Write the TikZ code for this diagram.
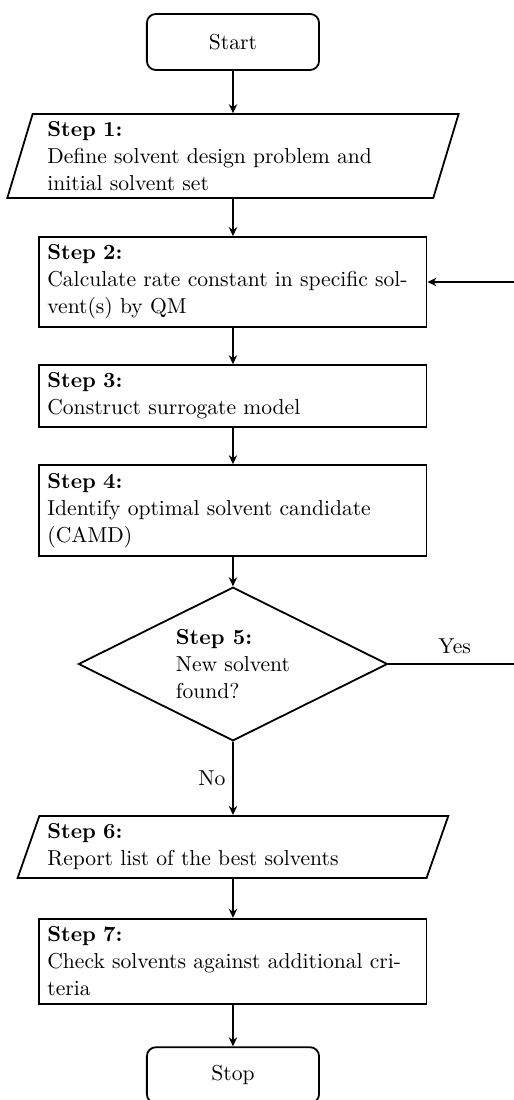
\documentclass[tikz,border=0pt]{standalone}
\usepackage{tikz}
\usetikzlibrary{positioning,arrows.meta,shapes.geometric,calc}
\tikzset{
  stepbox/.style = {draw, line width=0.8pt, align=left, text width=5.8cm,
                    inner xsep=0.125cm, inner ysep=3pt},
  io/.style      = {stepbox, trapezium, trapezium stretches=true},
  term/.style    = {draw, line width=0.8pt, rounded corners=4pt,
                    minimum width=2.69cm, minimum height=0.875cm},
  dec/.style     = {draw, line width=0.8pt, diamond, aspect=2, align=left,
                    inner sep=1pt, minimum width=4.83cm, minimum height=2.4cm},
  ar/.style      = {-{Stealth[length=1.4mm, width=1.3mm]}, line width=0.8pt},
  lbl/.style     = {inner sep=3pt},
}
\begin{document}
\begin{tikzpicture}[font=\fontsize{9.6}{12}\selectfont]
\useasboundingbox (0,0) rectangle (8.016,-17.1875);

% ===== terminals and steps =====
\node[term] (start) at (3.64,-0.656) {Start};
\node[io, trapezium left angle=73, trapezium right angle=107,
      inner xsep=0.23cm, minimum height=1.31cm] (s1) at (3.64,-2.4375)
     {\textbf{Step 1:}\\Define solvent design problem and\\initial solvent set};
\node[stepbox, minimum height=1.406cm] (s2) at (3.64,-4.406)
     {\textbf{Step 2:}\\Calculate rate constant in specific sol-\\vent(s) by QM};
\node[stepbox, minimum height=0.97cm] (s3) at (3.64,-6.19)
     {\textbf{Step 3:}\\Construct surrogate model};
\node[stepbox, minimum height=1.42cm] (s4) at (3.64,-7.977)
     {\textbf{Step 4:}\\Identify optimal solvent candidate\\(CAMD)};
\node[dec] (dec) at (3.64,-10.375)
     {\textbf{Step 5:}\\New solvent\\found?};
\node[io, trapezium left angle=70, trapezium right angle=110,
      minimum height=0.97cm] (s6) at (3.64,-13.234)
     {\textbf{Step 6:}\\Report list of the best solvents};
\node[stepbox, minimum height=1.33cm] (s7) at (3.64,-15.02)
     {\textbf{Step 7:}\\Check solvents against additional cri-\\teria};
\node[term] (stop) at (3.64,-16.8) {Stop};

% ===== connections =====
\foreach \a/\b in {start/s1,s1/s2,s2/s3,s3/s4,s4/dec,s6/s7,s7/stop}
  {\draw[ar] (\a) -- (\b);}
\draw[ar] (dec) -- node[lbl, left] {No} (s6);
\coordinate (back) at (8.06,-10.375);
\draw[ar] (dec.east) -- node[lbl, above=1pt, pos=0.52] {Yes} (back) |- (s2.east);
\end{tikzpicture}
\end{document}
